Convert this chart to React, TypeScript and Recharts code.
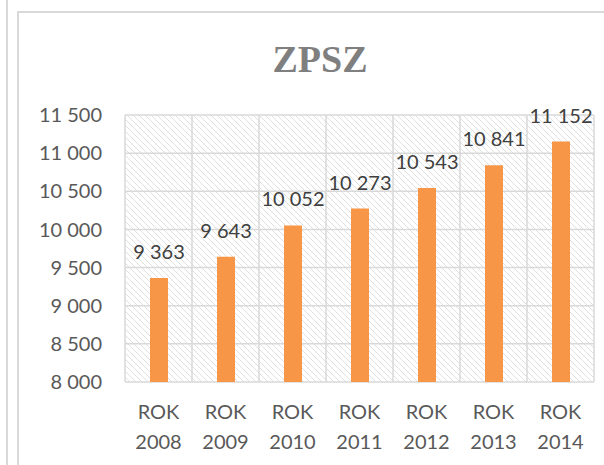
import { BarChart, Bar, XAxis, YAxis, CartesianGrid, LabelList } from 'recharts'

const years = ['2008', '2009', '2010', '2011', '2012', '2013', '2014']
const values = [9363, 9643, 10052, 10273, 10543, 10841, 11152]
const yTicks = [8000, 8500, 9000, 9500, 10000, 10500, 11000, 11500]

const data = years.map((year, i) => ({ name: `ROK ${year}`, year, value: values[i] }))

// thousands separated by a non-breaking space so Text doesn't wrap
const fmt = (v: number | string) =>
  String(v).replace(/\B(?=(\d{3})+(?!\d))/g, '\u00A0')

const font = 'Lato, "Open Sans", sans-serif'

// two-line category label, "ROK" above the year
const YearTick = ({ x, y, payload }: any) => {
  const [word, year] = String(payload.value).split(' ')
  return (
    <text x={x} textAnchor='middle' fill='#595959' fontSize={20} fontFamily={font}>
      <tspan x={x} y={y + 37}>{word}</tspan>
      <tspan x={x} y={y + 67}>{year}</tspan>
    </text>
  )
}

export default function App() {
  return (
    <div
      style={{
        position: 'absolute',
        left: 0,
        top: 0,
        width: 604,
        height: 465,
        overflow: 'hidden',
        background: '#fff',
      }}
    >
      <svg width={0} height={0} style={{ position: 'absolute' }}>
        <defs>
          <pattern id='hatch' patternUnits='userSpaceOnUse' width={6} height={6}>
            <path
              d='M0,0 L6,6 M-1,5 L1,7 M5,-1 L7,1'
              stroke='#e0e0e0'
              strokeWidth={1}
            />
          </pattern>
        </defs>
      </svg>
      {/* edge of the neighbouring box */}
      <div
        style={{ position: 'absolute', left: 6, top: 0, width: 2, height: 465, background: '#d9d9d9' }}
      />
      <div
        style={{
          position: 'absolute',
          left: 17,
          top: 11,
          width: 620,
          height: 480,
          border: '2px solid #d9d9d9',
        }}
      />
      <div
        style={{
          position: 'absolute',
          left: 18,
          width: 604,
          top: 40,
          lineHeight: '38px',
          textAlign: 'center',
          fontFamily: '"Liberation Serif", serif',
          fontWeight: 'bold',
          fontSize: 38,
          color: '#7f7f7f',
        }}
      >
        ZPSZ
      </div>
      <div style={{ position: 'absolute', left: 0, top: 0 }}>
        <BarChart
          width={604}
          height={465}
          data={data}
          margin={{ top: 115, right: 10, left: 25, bottom: 0 }}
        >
          <CartesianGrid
            stroke='#d9d9d9'
            strokeWidth={1.5}
            fill='url(#hatch)'
            fillOpacity={1}
            verticalCoordinatesGenerator={({ offset }: any) =>
              Array.from({ length: years.length + 1 }, (_, i) => offset.left + (i * offset.width) / years.length)
            }
          />
          <XAxis
            dataKey='name'
            height={83}
            axisLine={false}
            tickLine={false}
            tickSize={0}
            tickMargin={0}
            interval={0}
            tick={<YearTick />}
          />
          <YAxis
            width={100}
            domain={[8000, 11500]}
            ticks={yTicks}
            axisLine={false}
            tickLine={false}
            tickSize={0}
            tickMargin={23}
            tickFormatter={fmt}
            tick={{ fill: '#595959', fontSize: 20, fontFamily: font }}
          />
          <Bar dataKey='value' fill='#F79646' barSize={18} isAnimationActive={false}>
            <LabelList
              dataKey='value'
              position='top'
              offset={19}
              formatter={fmt}
              fill='#404040'
              fontSize={20}
              fontFamily={font}
            />
          </Bar>
        </BarChart>
      </div>
    </div>
  )
}
